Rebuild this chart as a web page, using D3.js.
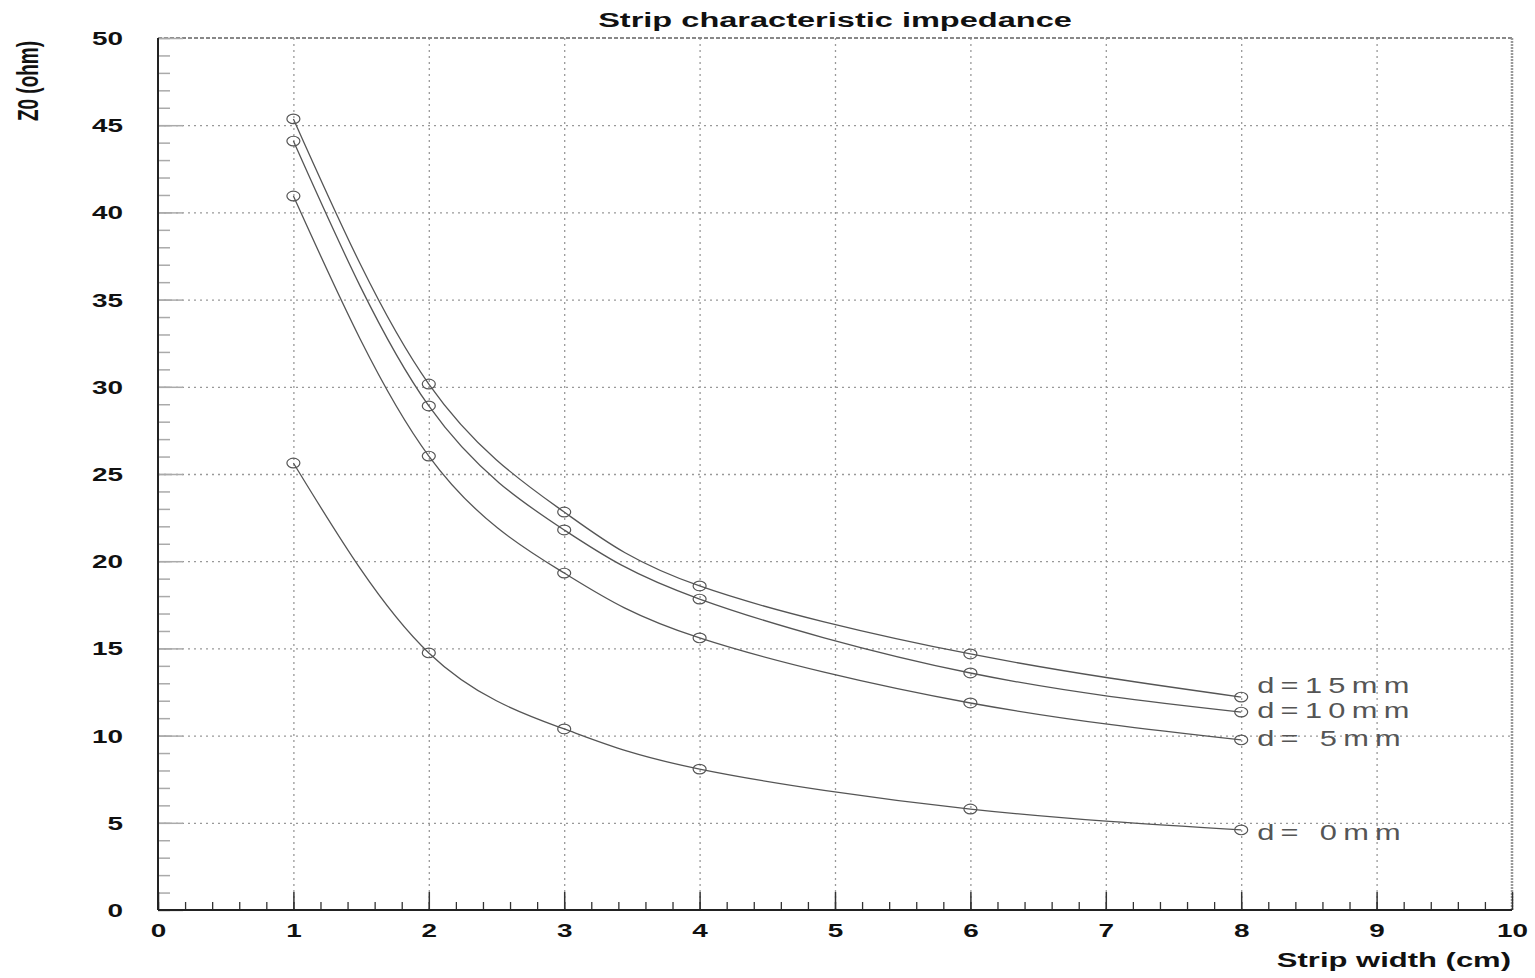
<!DOCTYPE html>
<html>
<head>
    <meta charset="utf-8">
    <style>
        body {
            margin: 0;
            background: #fff;
            font-family: 'Liberation Sans', Arial, sans-serif;
        }

        .grid .tick line {
            stroke: #999;
            stroke-width: 1.3;
            stroke-dasharray: 2 4;
        }

        .grid .domain {
            display: none;
        }

        .axis .domain {
            display: none;
        }

        .axis text {
            font-size: 18px;
            font-weight: bold;
            fill: #111;
        }
    </style>
</head>
<body>
    <svg width="1535" height="978"></svg>

    <script src="https://d3js.org/d3.v7.min.js"></script>
    <script>
        // values
        let widths = [1, 2, 3, 4, 6, 8];
        let seriesNames = ["d=15mm", "d=10mm", "d= 5mm", "d= 0mm"];
        let z15 = [45.36, 30.16, 22.82, 18.58, 14.68, 12.21];
        let z10 = [44.09, 28.90, 21.79, 17.83, 13.59, 11.35];
        let z5 = [40.94, 26.03, 19.32, 15.60, 11.87, 9.75];
        let z0 = [25.63, 14.74, 10.38, 8.08, 5.79, 4.59];
        let xTicks = [0, 1, 2, 3, 4, 5, 6, 7, 8, 9, 10];
        let yTicks = [0, 5, 10, 15, 20, 25, 30, 35, 40, 45, 50];

        let allSeries = [z15, z10, z5, z0];

        // the picture is stretched sideways, so text is too
        let SX = 1.55;

        let svg = d3.select("svg");

        let margin = { top: 38, right: 23, bottom: 68, left: 158 };
        let width = 1535;
        let height = 978;

        let x = d3.scaleLinear()
            .domain([0, 10])
            .range([margin.left, width - margin.right]);

        let y = d3.scaleLinear()
            .domain([0, 50])
            .range([height - margin.bottom, margin.top]);

        let plotW = x(10) - x(0);
        let plotH = y(0) - y(50);

        // dotted grid
        svg.append("g")
            .attr("class", "grid")
            .attr("transform", `translate(0,${y(0)})`)
            .call(d3.axisBottom(x).tickValues(xTicks.slice(1, -1)).tickSize(-plotH).tickFormat(""));

        svg.append("g")
            .attr("class", "grid")
            .attr("transform", `translate(${x(0)},0)`)
            .call(d3.axisLeft(y).tickValues(yTicks.slice(1, -1)).tickSize(-plotW).tickFormat(""));

        // frame top and right
        svg.append("line")
            .attr("x1", x(0)).attr("x2", x(10))
            .attr("y1", y(50)).attr("y2", y(50))
            .style("stroke", "#888")
            .style("stroke-width", 2)
            .style("stroke-dasharray", "4 2");

        svg.append("line")
            .attr("x1", x(10)).attr("x2", x(10))
            .attr("y1", y(50)).attr("y2", y(0))
            .style("stroke", "#999")
            .style("stroke-width", 2.5)
            .style("stroke-dasharray", "2 1");

        // y axis: minor and major ticks
        svg.append("g")
            .attr("class", "axis")
            .attr("transform", `translate(${x(0)},0)`)
            .call(d3.axisLeft(y).tickValues(d3.range(0, 51, 1)).tickSize(-12).tickFormat(""))
            .selectAll("line").style("stroke", "#aaa").style("stroke-width", 1.5);

        let yAxisG = svg.append("g")
            .attr("class", "axis")
            .attr("transform", `translate(${x(0)},0)`)
            .call(d3.axisLeft(y).tickValues(yTicks).tickSize(-25));

        yAxisG.selectAll("line").style("stroke", "#aaa").style("stroke-width", 1.5);
        yAxisG.selectAll("text")
            .attr("x", 0)
            .attr("dy", "0.36em")
            .attr("transform", `translate(-35,0) scale(${SX},1)`);

        // x axis: minor and major ticks
        svg.append("g")
            .attr("class", "axis")
            .attr("transform", `translate(0,${y(0)})`)
            .call(d3.axisBottom(x).tickValues(d3.range(0, 50).map(d => d / 5)).tickSize(-8).tickFormat(""))
            .selectAll("line").style("stroke", "#333").style("stroke-width", 1.3);

        let xAxisG = svg.append("g")
            .attr("class", "axis")
            .attr("transform", `translate(0,${y(0)})`)
            .call(d3.axisBottom(x).tickValues(xTicks).tickSize(-18));

        xAxisG.selectAll("line").style("stroke", "#333").style("stroke-width", 1.5);
        xAxisG.selectAll("text")
            .attr("y", 0)
            .attr("dy", null)
            .attr("transform", `translate(0,27) scale(${SX},1)`);

        // axis lines
        svg.append("line")
            .attr("x1", x(0)).attr("x2", x(0))
            .attr("y1", y(50)).attr("y2", y(0))
            .style("stroke", "#222")
            .style("stroke-width", 2);

        svg.append("line")
            .attr("x1", x(0)).attr("x2", x(10))
            .attr("y1", y(0)).attr("y2", y(0))
            .style("stroke", "#222")
            .style("stroke-width", 2);

        // curves
        let line = d3.line()
            .x((d, i) => x(widths[i]))
            .y(d => y(d))
            .curve(d3.curveNatural);

        allSeries.forEach(function (vals, k) {
            svg.append("path")
                .attr("d", line(vals))
                .style("fill", "none")
                .style("stroke", "#555")
                .style("stroke-width", 1.3);

            svg.selectAll(null)
                .data(vals)
                .enter()
                .append("ellipse")
                .attr("cx", (d, i) => x(widths[i]))
                .attr("cy", d => y(d))
                .attr("rx", 6.5)
                .attr("ry", 4.8)
                .style("fill", "none")
                .style("stroke", "#555")
                .style("stroke-width", 1.2);
        });

        // series labels next to the last point
        let labelDy = [-4, 6, 6, 10];
        allSeries.forEach(function (vals, k) {
            let last = vals.length - 1;
            svg.append("text")
                .attr("transform", `translate(${x(widths[last]) + 16},${y(vals[last]) + labelDy[k]}) scale(1.4,1)`)
                .style("font-size", "22px")
                .style("letter-spacing", "4.5px")
                .style("fill", "#555")
                .style("white-space", "pre")
                .text(seriesNames[k]);
        });

        // titles
        svg.append("text")
            .attr("transform", `translate(${(x(0) + x(10)) / 2},27) scale(${SX},1)`)
            .style("text-anchor", "middle")
            .style("font-size", "21px")
            .style("font-weight", "bold")
            .style("fill", "#111")
            .text("Strip characteristic impedance");

        svg.append("text")
            .attr("transform", `translate(${x(10) - 1},967) scale(${SX},1)`)
            .style("text-anchor", "end")
            .style("font-size", "20px")
            .style("font-weight", "bold")
            .style("fill", "#111")
            .text("Strip width (cm)");

        svg.append("text")
            .attr("transform", `translate(38,81) scale(${SX},1) rotate(-90)`)
            .style("text-anchor", "middle")
            .style("font-size", "19px")
            .style("font-weight", "bold")
            .style("fill", "#111")
            .text("Z0 (ohm)");
    </script>
</body>
</html>
